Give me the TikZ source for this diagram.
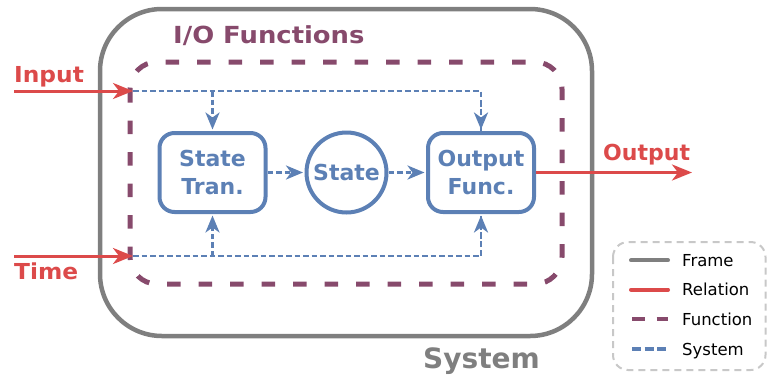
\documentclass[tikz,border=0pt]{standalone}
\usepackage{fontspec}
\setmainfont{DejaVu Sans}
\newfontfamily\widefont{DejaVu Sans}[FakeStretch=1.1]
\newfontfamily\semiwidefont{DejaVu Sans}[FakeStretch=1.06]
\usetikzlibrary{arrows.meta}
\definecolor{cgray}{HTML}{7F7F7F}
\definecolor{cred}{HTML}{DC4A4A}
\definecolor{cpurple}{HTML}{874A6C}
\definecolor{cblue}{HTML}{5C80B5}
\definecolor{clegend}{HTML}{C8C8C8}
\begin{document}
\begin{tikzpicture}[x=1pt,y=-1pt,
  frameline/.style={draw=cgray, line width=4.5pt, rounded corners=62pt},
  funcline/.style={draw=cpurple, line width=5pt, dash pattern=on 13.5pt off 18pt, rounded corners=27pt},
  rel/.style={draw=cred, line width=3pt, -{Stealth[length=20pt,width=16pt,inset=6pt]}},
  sys/.style={draw=cblue, line width=2.8pt, dash pattern=on 5.5pt off 3pt},
  sysarrow/.style={sys, -{Stealth[length=17pt,width=14pt,inset=5pt]}, shorten >=1.5pt},
  blk/.style={draw=cblue, line width=4pt, rounded corners=15pt, minimum width=106pt, minimum height=79pt, inner sep=0pt, text=cblue, font=\bfseries\fontsize{22}{28}\selectfont, align=center},
  circ/.style={circle, draw=cblue, line width=4pt, minimum size=80pt, inner sep=0pt, text=cblue, font=\bfseries\fontsize{22}{28}\selectfont},
  lbl/.style={font=\semiwidefont\bfseries\fontsize{22}{26}\selectfont, inner sep=0pt, anchor=base west},
  legtext/.style={font=\fontsize{16.5}{20}\selectfont, inner sep=0pt, anchor=base west, text=black},
  legline/.style={line width=4pt}
]
\useasboundingbox (0,0) rectangle (767,375);

% frame and function boundary
\draw[frameline] (100,9) rectangle (592,336);
\draw[funcline] (130,62) rectangle (562,284);

% labels
\node[lbl, text=cpurple, font=\widefont\bfseries\fontsize{23.5}{28}\selectfont] (iolbl) at (173,43) {I/O Functions};
\node[lbl, text=cgray, font=\bfseries\fontsize{28}{32}\selectfont] (syslbl) at (423,368) {System};
\node[lbl, text=cred] (inlbl) at (14,82) {Input};
\node[lbl, text=cred] (timelbl) at (14,279) {Time};
\node[lbl, text=cred, font=\bfseries\fontsize{22}{26}\selectfont] (outlbl) at (603,160) {Output};

% nodes
\node[blk] (st) at (212.5,172.5) {State\\Tran.};
\node[circ] (s) at (346.5,172.5) {State};
\node[blk] (of) at (481,172.5) {Output\\Func.};

% coordinates
\coordinate (inL) at (14,91);
\coordinate (inP) at (133,91);
\coordinate (tL) at (14,256);
\coordinate (tP) at (133,256);
\coordinate (outR) at (692,172.5);

% system lines
\draw[sys] (inP) -| (of.north);
\draw[sysarrow] (inP -| of.north) ++(0,10) -- (of.north);
\draw[sysarrow] (inP -| st.north) -- (st.north);
\draw[sys] (tP) -| (of.south);
\draw[sysarrow] (tP -| of.south) ++(0,-10) -- (of.south);
\draw[sysarrow] (tP -| st.south) -- (st.south);
\draw[sysarrow] (st) -- (s);
\draw[sysarrow] (s) -- (of);

% relations
\draw[rel] (inL) -- (inP);
\draw[rel] (tL) -- (tP);
\draw[rel] (of.east) -- (outR);

% legend
\draw[clegend, line width=2pt, dash pattern=on 7pt off 5pt, rounded corners=15pt] (613,242) rectangle (765.5,370);
\coordinate (l1a) at (631,260.3); \coordinate (l1b) at (668,260.3);
\coordinate (l2a) at (631,289.7); \coordinate (l2b) at (668,289.7);
\coordinate (l3a) at (632,319);   \coordinate (l3b) at (668,319);
\coordinate (l4a) at (632,349);   \coordinate (l4b) at (668,349);
\draw[legline, cgray, line cap=round] (l1a) -- (l1b);
\draw[legline, cred, line cap=round] (l2a) -- (l2b);
\draw[legline, cpurple, dash pattern=on 13pt off 11.5pt] (l3a) -- (l3b);
\draw[legline, cblue, dash pattern=on 9pt off 3.5pt] (l4a) -- (l4b);
\node[legtext] (lg1) at (682,266.3) {Frame};
\node[legtext] (lg2) at (682,295.7) {Relation};
\node[legtext] (lg3) at (682,325) {Function};
\node[legtext] (lg4) at (682,355) {System};
\end{tikzpicture}
\end{document}
